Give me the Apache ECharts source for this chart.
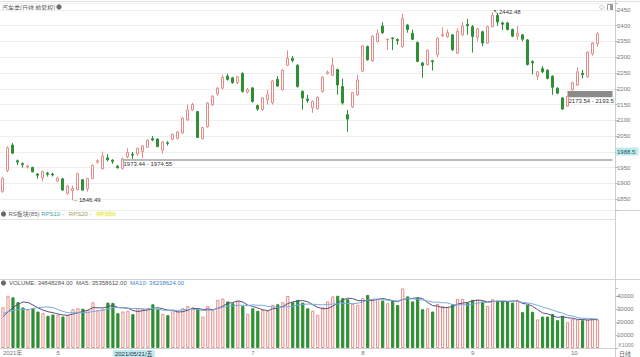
<!DOCTYPE html>
<html><head><meta charset="utf-8">
<script src="https://cdn.jsdelivr.net/npm/echarts@6/dist/echarts.min.js"></script>
<style>html,body{margin:0;padding:0;background:#fff}#c{width:640px;height:357px}</style>
</head><body><div id="c"></div>
<script>
// trading days shown (one candle per day)
const months = [
  ['2021-04', [16,19,20,21,22,23,26,27,28,29,30]],
  ['2021-05', [6,7,10,11,12,13,14,17,18,19,20,21,24,25,26,27,28,31]],
  ['2021-06', [1,2,3,4,7,8,9,10,11,15,16,17,18,21,22,23,24,25,28,29,30]],
  ['2021-07', [1,2,5,6,7,8,9,12,13,14,15,16,19,20,21,22,23,26,27,28,29,30]],
  ['2021-08', [2,3,4,5,6,9,10,11,12,13,16,17,18,19,20,23,24,25,26,27,30,31]],
  ['2021-09', [1,2,3,6,7,8,9,10,13,14,15,16,17,22,23,24,27,28,29,30]],
  ['2021-10', [8,11,12,13,14,15]]
];
const monthTickLabels = ['2021年', '5', '', '7', '8', '9', '10'];
const crossIndex = 22;
const crossLabel = '2021/05/21/五';

const opens = [
1875,1941,2022,1972,1963,1952,1951,1930,1918,1933,
1930,1908,1915,1869,1878,1881,1912,1883,1916,1968,
1947,1981,1974,1955,1948,1985,1993,1994,2001,2015,
2042,2041,2006,2029,2040,2043,2060,2102,2133,2128,
2042,2080,2150,2184,2202,2240,2235,2220,2249,2190,
2203,2147,2134,2165,2156,2230,2197,2275,2296,2275,
2192,2168,2140,2137,2192,2249,2243,2261,2207,2118,
2143,2181,2256,2334,2289,2350,2399,2355,2361,2356,
2334,2402,2376,2347,2282,2277,2289,2308,2369,2365,
2371,2313,2371,2404,2397,2363,2381,2345,2397,2433,
2409,2409,2388,2367,2371,2355,2287,2240,2264,2259,
2240,2202,2171,2145,2197,2212,2249,2238,2311,2343];
const closes = [
1916,2013,1996,1968,1960,1955,1937,1926,1938,1929,
1927,1917,1879,1892,1884,1931,1879,1916,1957,1972,
1987,1975,1970,1950,1978,1998,1990,2011,2019,2037,
2038,2017,2032,2027,2056,2063,2107,2133,2150,2046,
2077,2155,2176,2202,2236,2230,2220,2238,2192,2198,
2160,2136,2171,2181,2225,2209,2259,2296,2290,2207,
2171,2163,2160,2173,2237,2253,2275,2212,2155,2104,
2188,2228,2336,2292,2367,2376,2378,2357,2359,2353,
2423,2388,2357,2287,2274,2322,2286,2360,2372,2378,
2324,2383,2399,2400,2366,2390,2345,2397,2433,2412,
2405,2388,2367,2376,2357,2277,2282,2254,2254,2233,
2205,2186,2136,2176,2219,2254,2245,2316,2345,2374];
const lows = [
1870,1936,1993,1958,1950,1947,1935,1915,1907,1922,
1922,1904,1877,1864,1846.49,1878,1876,1874,1914,1962,
1944,1970,1962,1947,1944,1980,1978,1988,1981,2013,
2034,2015,1994,2020,2037,2040,2057,2098,2130,2044,
2040,2077,2146,2178,2198,2226,2216,2215,2188,2185,
2156,2130,2131,2150,2150,2206,2194,2272,2284,2204,
2134,2156,2124,2134,2188,2245,2240,2181,2150,2064,
2139,2178,2253,2289,2286,2347,2374,2323,2323,2340,
2330,2378,2354,2284,2235,2274,2258,2300,2364,2362,
2320,2310,2368,2371,2315,2350,2335,2342,2394,2400,
2386,2385,2364,2355,2350,2274,2246,2228,2250,2230,
2181,2183,2133,2142,2190,2209,2233,2235,2305,2333];
const highs = [
1920,2018,2028,1976,1967,1960,1953,1933,1940,1937,
1934,1922,1917,1896,1893,1934,1914,1918,1960,1977,
2001,1993,1977,1958,1981,2012,2000,2014,2022,2040,
2050,2043,2034,2034,2058,2066,2110,2150,2156,2130,
2080,2158,2180,2206,2244,2248,2238,2241,2252,2203,
2206,2150,2174,2196,2228,2240,2262,2322,2304,2278,
2195,2181,2163,2176,2240,2258,2299,2264,2232,2133,
2190,2244,2338,2337,2370,2389,2411,2360,2364,2360,
2438,2405,2388,2350,2285,2325,2292,2363,2395,2388,
2374,2392,2412,2422,2402,2393,2384,2400,2442.48,2440,
2413,2412,2391,2399,2374,2358,2290,2256,2272,2262,
2243,2205,2174,2179,2222,2268,2260,2319,2348,2380];
// volume in thousands
const volume = [
31500,40400,39200,35400,31300,29500,30700,28200,26900,24900,
25900,25600,24300,25600,30000,30700,30400,29500,35400,29500,
30300,35100,34848,26900,28200,28800,26200,30700,30700,30700,
33800,30000,26400,25400,29500,28200,30700,32500,31500,30000,
24300,32500,29500,37200,38200,36000,34600,36200,32500,26400,
30700,28800,29500,28800,33300,33800,35400,40200,35400,37200,
35100,30700,28800,25600,31500,36000,39900,40400,38500,37700,
34100,33300,38500,41000,37200,37900,36700,34600,36700,33300,
46100,39900,36000,39000,30000,30700,28200,34100,32500,31500,
33800,37900,37900,35100,37200,37200,36000,32500,37700,36700,
36400,36000,35100,37200,27700,33300,28000,22100,24300,24300,
26200,21500,24900,20000,22300,21800,21500,22100,22100,22100];
// volumes of the days before the first visible candle (estimated from where the MA lines start)
const prevVolume = [29500,29500,29500,29500,29500,22500,22500,22500,22500];

const highMark = {index: 98, value: 2442.48, text: '↖2442.48'};
const lowMark = {index: 14, value: 1846.49, text: '←1846.49'};
const lineBand = {index: 24, low: 1973.44, high: 1974.55, text: '1973.44 - 1974.55'};
const grayBand = {index: 113, low: 2173.54, high: 2193.5, text: '2173.54 - 2193.5'};
const lastPrice = 1988.5;
const titleText = '汽车类(日线 前复权)';
const volHeader = {vol: 'VOLUME: 34848284.00', ma5: 'MA5: 35358612.00', ma10: 'MA10: 36238624.00'};

const UP = '#e68a8a', DOWN = '#2f8f34';
const FONT = 'Liberation Sans, Arial, Noto Sans CJK SC, sans-serif';

const cats = [];
const monthStart = {};
months.forEach(([m, days], mi) => {
  monthStart[cats.length] = monthTickLabels[mi];
  days.forEach(d => cats.push(m + '-' + String(d).padStart(2, '0')));
});
const N = opens.length;
const pads = ['p1', 'p2', 'p3'];
pads.forEach(p => cats.push(p));
const lastCat = pads[pads.length - 1];

const candleData = cats.map((c, i) => i < N ? [opens[i], closes[i], lows[i], highs[i]] : '-');
const volData = cats.map((c, i) => {
  if (i >= N) return '-';
  const up = closes[i] >= opens[i];
  return {value: volume[i], itemStyle: up ? {color: '#fff', borderColor: UP, borderWidth: 1} : {color: DOWN, borderColor: DOWN, borderWidth: 1}};
});
function ma(n) {
  const all = prevVolume.concat(volume);
  const off = prevVolume.length;
  return cats.map((c, i) => {
    if (i >= N) return '-';
    let s = 0;
    for (let k = 0; k < n; k++) s += all[off + i - k];
    return Math.round(s / n);
  });
}

const chart = echarts.init(document.getElementById('c'), null, {renderer: 'svg'});
const axisLabelBase = {fontSize: 6, color: '#777', fontFamily: FONT};
chart.setOption({
  animation: false,
  textStyle: {fontFamily: FONT},
  grid: [
    {left: 0, right: 25, top: 3, bottom: 147},
    {left: 0, right: 25, top: 288, bottom: 8.7}
  ],
  xAxis: [
    {type: 'category', gridIndex: 0, data: cats, boundaryGap: true,
      axisLine: {show: false}, axisTick: {show: false}, axisLabel: {show: false}, splitLine: {show: false}},
    {type: 'category', gridIndex: 1, data: cats, boundaryGap: true,
      axisLine: {show: true, lineStyle: {color: '#cfcfcf'}}, axisTick: {show: false}, splitLine: {show: false},
      axisLabel: Object.assign({}, axisLabelBase, {
        margin: 2, align: 'left',
        interval: (i) => (monthStart[i] !== undefined && monthStart[i] !== '') || i === crossIndex,
        formatter: (v, i) => {
          if (i === crossIndex) return '{d|' + crossLabel + '}';
          if (i === 0) return '{t|' + monthStart[i] + '}';
          return '{m|' + (monthStart[i] || '') + '}';
        },
        rich: {
          t: {fontSize: 6, color: '#777', fontFamily: FONT},
          m: {fontSize: 6, color: '#777', fontFamily: FONT, padding: [0, 0, 0, -1.5]},
          d: {fontSize: 6, color: '#334', backgroundColor: '#bfe9ee', padding: [1, 2, 0, 2], fontFamily: FONT}
        }
      })}
  ],
  yAxis: [
    {type: 'value', gridIndex: 0, position: 'right', min: 1816, max: 2472, splitNumber: 13,
      axisLine: {show: true, lineStyle: {color: '#cfcfcf'}},
      axisTick: {show: true, length: 3, lineStyle: {color: '#bbb'}},
      axisLabel: Object.assign({}, axisLabelBase, {margin: 2,
        formatter: v => (v % 50 === 0 && Math.abs(v - lastPrice) > 20 ? String(v) : '')}),
      splitLine: {show: true, lineStyle: {color: '#efefef', width: 1}}},
    {type: 'value', gridIndex: 1, position: 'right', min: 0, max: 46380, splitNumber: 5,
      axisLine: {show: true, lineStyle: {color: '#cfcfcf'}},
      axisTick: {show: true, length: 3, lineStyle: {color: '#bbb'}},
      axisLabel: Object.assign({}, axisLabelBase, {margin: 2,
        formatter: v => (v === 0 ? '{x|X1000}' : (v % 10000 === 0 ? String(v) : '')),
        rich: {x: {fontSize: 5.5, color: '#888', padding: [0, 1, 6, 1], fontFamily: FONT}}}),
      splitLine: {show: false}}
  ],
  series: [
    {type: 'candlestick', xAxisIndex: 0, yAxisIndex: 0, data: candleData, barWidth: 3.2, clip: false,
      itemStyle: {color: '#fff', color0: DOWN, borderColor: UP, borderColor0: DOWN, borderWidth: 1},
      markPoint: {
        silent: true, symbol: 'circle', symbolSize: 1, itemStyle: {color: 'rgba(0,0,0,0)'},
        label: {show: true, position: 'right', distance: 0, fontSize: 6, color: '#333', fontFamily: FONT},
        data: [
          {coord: [cats[highMark.index], highMark.value], label: {formatter: highMark.text}},
          {coord: [cats[lowMark.index], lowMark.value], label: {formatter: lowMark.text}}
        ]
      },
      markLine: {
        silent: true, symbol: ['none', 'none'],
        data: [
          [{coord: [cats[lineBand.index], (lineBand.low + lineBand.high) / 2],
            lineStyle: {color: '#a3a3a3', width: 1.6, type: 'solid'},
            label: {show: true, position: 'insideStartBottom', distance: [1, 1], formatter: lineBand.text,
              fontSize: 6, color: '#333', fontFamily: FONT}},
           {coord: [lastCat, (lineBand.low + lineBand.high) / 2]}],
          {yAxis: lastPrice, lineStyle: {color: 'rgba(0,0,0,0)', width: 0, type: 'solid'},
            label: {show: true, position: 'end', distance: 1, formatter: String(lastPrice), offset: [0, -4],
              fontSize: 6, color: '#2d4f6f', backgroundColor: '#bfeaea', padding: [1, 3, 1, 1], fontFamily: FONT}}
        ]
      },
      markArea: {
        silent: true,
        data: [[
          {xAxis: cats[grayBand.index], yAxis: grayBand.low, itemStyle: {color: '#8a8a8a'},
            label: {show: true, position: [1, 7], formatter: grayBand.text, fontSize: 6, color: '#333', fontFamily: FONT}},
          {xAxis: lastCat, yAxis: grayBand.high}
        ]]
      }
    },
    {type: 'bar', xAxisIndex: 1, yAxisIndex: 1, data: volData, barWidth: 3.2},
    {type: 'line', xAxisIndex: 1, yAxisIndex: 1, data: ma(5), symbol: 'none', lineStyle: {color: '#58507e', width: 1}},
    {type: 'line', xAxisIndex: 1, yAxisIndex: 1, data: ma(10), symbol: 'none', lineStyle: {color: '#79acdc', width: 1}}
  ],
  graphic: [
    {type: 'line', shape: {x1: 0, y1: 210.5, x2: 640, y2: 210.5}, style: {stroke: '#d4d4d4', lineWidth: 1}},
    {type: 'line', shape: {x1: 0, y1: 219.5, x2: 615, y2: 219.5}, style: {stroke: '#e2e2e2', lineWidth: 1}},
    {type: 'line', shape: {x1: 0, y1: 279.5, x2: 640, y2: 279.5}, style: {stroke: '#d4d4d4', lineWidth: 1}},
    {type: 'line', shape: {x1: 0, y1: 1.5, x2: 640, y2: 1.5}, style: {stroke: '#e0e0e0', lineWidth: 1}},
    {type: 'line', shape: {x1: 615.5, y1: 0, x2: 615.5, y2: 357}, style: {stroke: '#cfcfcf', lineWidth: 1}},
    {type: 'text', x: 2, y: 7, style: {text: titleText, fontSize: 6, fontFamily: 'Noto Sans CJK SC, sans-serif', fill: '#555', verticalAlign: 'middle'}},
    {type: 'circle', shape: {cx: 59, cy: 7, r: 2.6}, style: {fill: '#6a6a6a'}},
    {type: 'text', x: 599, y: 7, style: {text: '◇', fontSize: 7, fontFamily: 'DejaVu Sans', fill: '#999', verticalAlign: 'middle'}},
    {type: 'rect', shape: {x: 607.5, y: 4.5, width: 5, height: 6}, style: {fill: '#fff', stroke: '#999', lineWidth: 1}},
    {type: 'rect', shape: {x: 610, y: 4.5, width: 2.5, height: 6}, style: {fill: '#999'}},
    {type: 'circle', shape: {cx: 3.5, cy: 214, r: 2.6}, style: {fill: '#6a6a6a'}},
    {type: 'text', x: 8.5, y: 214, style: {
      text: '{a|RS板块(85)} {b|RPS10 -}   {c|RPS20 -}   {d|RPS50}',
      fontSize: 6, fontFamily: FONT, verticalAlign: 'middle',
      rich: {a: {fill: '#666', fontSize: 6, fontFamily: FONT}, b: {fill: '#4aa3a8', fontSize: 6, fontFamily: FONT},
        c: {fill: '#a7a35a', fontSize: 6, fontFamily: FONT}, d: {fill: '#e3e33a', backgroundColor: '#fdfdd8', fontSize: 6, fontFamily: FONT}}}},
    {type: 'circle', shape: {cx: 3.5, cy: 283, r: 2.6}, style: {fill: '#6a6a6a'}},
    {type: 'text', x: 9, y: 283, style: {
      text: '{a|' + volHeader.vol + '  ' + volHeader.ma5 + '}  {b|' + volHeader.ma10 + '}',
      fontSize: 6, fontFamily: FONT, verticalAlign: 'middle',
      rich: {a: {fill: '#555', fontSize: 6, fontFamily: FONT}, b: {fill: '#3f86c6', fontSize: 6, fontFamily: FONT}}}},
    {type: 'text', x: 619, y: 353, style: {text: '日线', fontSize: 6, fontFamily: 'Noto Sans CJK SC, sans-serif', fill: '#666', verticalAlign: 'middle'}}
  ]
});
</script>
</body></html>
